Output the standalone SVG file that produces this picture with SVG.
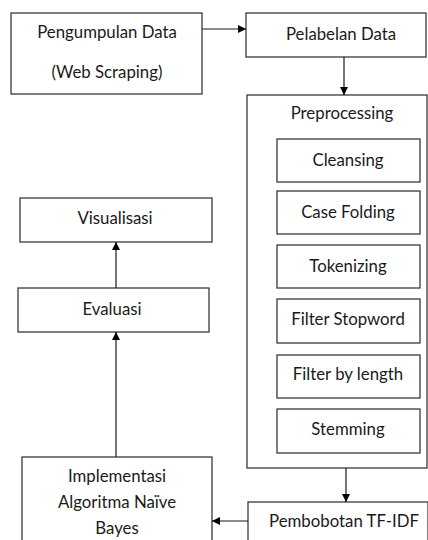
<svg xmlns="http://www.w3.org/2000/svg" width="428" height="540" viewBox="0 0 428 540">
  <style>
    .box { fill: #ffffff; stroke: #3a3a3a; stroke-width: 1.3; }
    .lbl { font-family: Lato, "Open Sans", sans-serif; font-size: 16.8px; fill: #1a1a1a; text-anchor: middle; }
    .edge { fill: none; stroke: #1a1a1a; stroke-width: 1.2; }
  </style>
  <defs>
    <marker id="arrow" viewBox="0 0 10 10" refX="10" refY="5" markerWidth="8" markerHeight="8" markerUnits="userSpaceOnUse" orient="auto">
      <path d="M0,0 L10,5 L0,10 z" fill="#000000"/>
    </marker>
  </defs>
  <rect width="428" height="540" fill="#ffffff"/>

  <g id="pengumpulan-data">
    <rect class="box" x="11" y="13" width="191" height="81"/>
    <text class="lbl" x="107" y="38">Pengumpulan Data</text>
    <text class="lbl" x="107" y="78">(Web Scraping)</text>
  </g>

  <g id="pelabelan-data">
    <rect class="box" x="246" y="13" width="180" height="44"/>
    <text class="lbl" x="341" y="40">Pelabelan Data</text>
  </g>

  <g id="preprocessing">
    <rect class="box" x="247" y="95" width="180" height="373"/>
    <text class="lbl" x="342" y="119">Preprocessing</text>
  </g>

  <g id="cleansing">
    <rect class="box" x="277" y="139" width="143" height="43"/>
    <text class="lbl" x="348" y="166">Cleansing</text>
  </g>

  <g id="case-folding">
    <rect class="box" x="277" y="191" width="143" height="43"/>
    <text class="lbl" x="348" y="218">Case Folding</text>
  </g>

  <g id="tokenizing">
    <rect class="box" x="277" y="245" width="143" height="43"/>
    <text class="lbl" x="348" y="272">Tokenizing</text>
  </g>

  <g id="filter-stopword">
    <rect class="box" x="277" y="299" width="143" height="44"/>
    <text class="lbl" x="348" y="325">Filter Stopword</text>
  </g>

  <g id="filter-by-length">
    <rect class="box" x="277" y="355" width="143" height="43"/>
    <text class="lbl" x="348" y="380">Filter by length</text>
  </g>

  <g id="stemming">
    <rect class="box" x="277" y="409" width="143" height="44"/>
    <text class="lbl" x="348" y="435">Stemming</text>
  </g>

  <g id="pembobotan-tfidf">
    <rect class="box" x="248" y="502" width="180" height="44"/>
    <text class="lbl" x="344" y="527">Pembobotan TF-IDF</text>
  </g>

  <g id="implementasi">
    <rect class="box" x="22" y="457" width="190" height="90"/>
    <text class="lbl" x="117" y="482">Implementasi</text>
    <text class="lbl" x="117" y="508">Algoritma Naïve</text>
    <text class="lbl" x="117" y="534">Bayes</text>
  </g>

  <g id="evaluasi">
    <rect class="box" x="18" y="288" width="191" height="44"/>
    <text class="lbl" x="112" y="315">Evaluasi</text>
  </g>

  <g id="visualisasi">
    <rect class="box" x="20" y="198" width="192" height="44"/>
    <text class="lbl" x="115" y="224">Visualisasi</text>
  </g>

  <g id="connectors">
    <line class="edge" x1="202" y1="29" x2="246" y2="29" marker-end="url(#arrow)"/>
    <line class="edge" x1="344" y1="57" x2="344" y2="95" marker-end="url(#arrow)"/>
    <line class="edge" x1="346" y1="468" x2="346" y2="502" marker-end="url(#arrow)"/>
    <line class="edge" x1="248" y1="521" x2="212" y2="521" marker-end="url(#arrow)"/>
    <line class="edge" x1="116" y1="457" x2="116" y2="332" marker-end="url(#arrow)"/>
    <line class="edge" x1="116" y1="288" x2="116" y2="242" marker-end="url(#arrow)"/>
  </g>
</svg>
